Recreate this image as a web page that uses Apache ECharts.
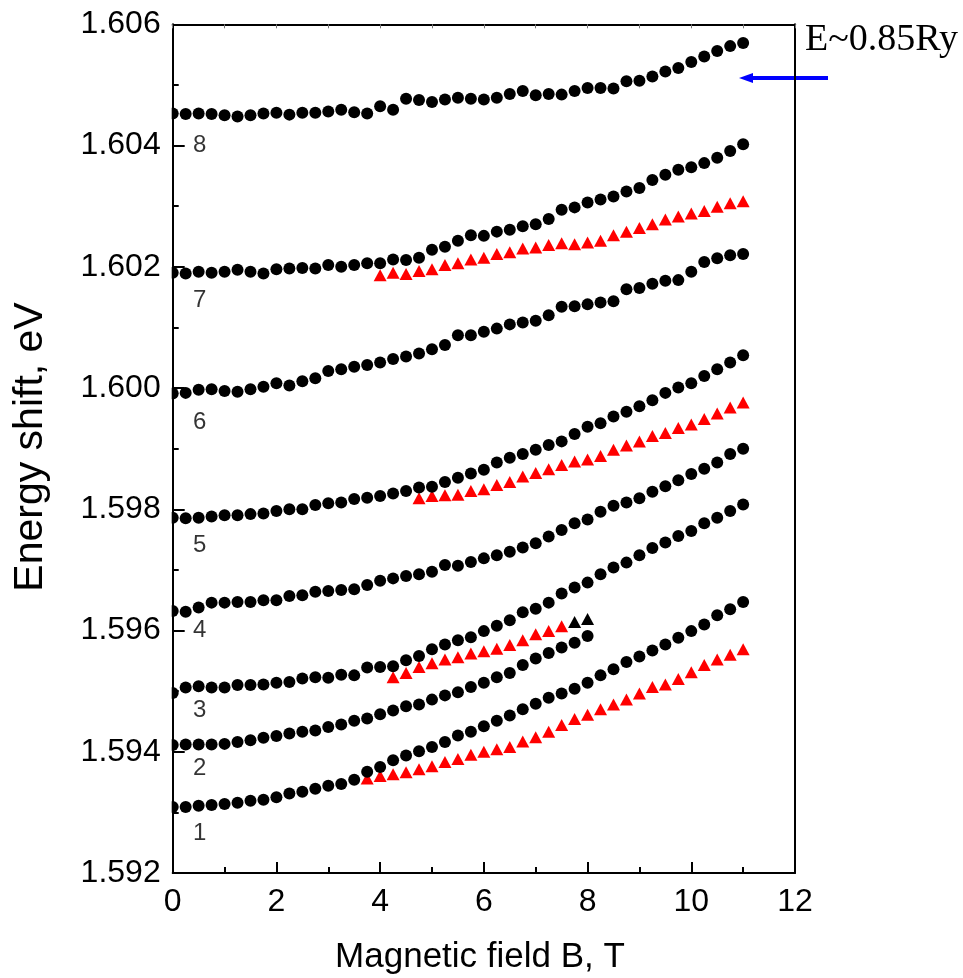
<!DOCTYPE html>
<html>
<head>
<meta charset="utf-8">
<script src="https://cdn.jsdelivr.net/npm/echarts@6/dist/echarts.min.js"></script>
<style>
html,body{margin:0;padding:0;background:#fff;}
#chart{width:963px;height:978px;}
</style>
</head>
<body>
<div id="chart"></div>
<script>
// Magnetic field grid (T), measured every 0.25 T
const B_FIELD = [0,0.25,0.5,0.75,1,1.25,1.5,1.75,2,2.25,2.5,2.75,3,3.25,3.5,3.75,4,4.25,4.5,4.75,5,5.25,5.5,5.75,6,6.25,6.5,6.75,7,7.25,7.5,7.75,8,8.25,8.5,8.75,9,9.25,9.5,9.75,10,10.25,10.5,10.75,11];

// black circle series (start field, values in eV)
const S8_START = 0;
const S8 = [1.60453,1.60452,1.60453,1.60452,1.60450,1.60448,1.60450,1.60453,1.60454,1.60451,1.60454,1.60454,1.60456,1.60459,1.60455,1.60453,1.60465,1.60459,1.60477,1.60475,1.60472,1.60476,1.60479,1.60477,1.60476,1.60479,1.60485,1.60490,1.60483,1.60485,1.60484,1.60490,1.60495,1.60495,1.60494,1.60506,1.60507,1.60514,1.60522,1.60528,1.60538,1.60547,1.60556,1.60564,1.60569];
const S7_START = 0;
const S7 = [1.60190,1.60189,1.60192,1.60190,1.60192,1.60195,1.60192,1.60189,1.60196,1.60197,1.60198,1.60197,1.60203,1.60200,1.60203,1.60206,1.60206,1.60212,1.60211,1.60215,1.60228,1.60233,1.60243,1.60252,1.60251,1.60258,1.60261,1.60267,1.60270,1.60279,1.60294,1.60298,1.60306,1.60311,1.60316,1.60324,1.60330,1.60343,1.60352,1.60360,1.60364,1.60371,1.60380,1.60391,1.60402];
const S6_START = 0;
const S6 = [1.59991,1.59992,1.59997,1.59998,1.59995,1.59994,1.59998,1.60002,1.60008,1.60004,1.60011,1.60016,1.60028,1.60031,1.60035,1.60038,1.60042,1.60048,1.60052,1.60057,1.60064,1.60071,1.60087,1.60087,1.60093,1.60098,1.60105,1.60108,1.60111,1.60120,1.60134,1.60135,1.60138,1.60141,1.60143,1.60163,1.60165,1.60172,1.60177,1.60178,1.60192,1.60208,1.60214,1.60219,1.60221];
const S5_START = 0;
const S5 = [1.59786,1.59785,1.59786,1.59788,1.59790,1.59790,1.59792,1.59793,1.59797,1.59800,1.59800,1.59807,1.59810,1.59811,1.59817,1.59819,1.59822,1.59826,1.59830,1.59836,1.59837,1.59845,1.59852,1.59859,1.59865,1.59877,1.59885,1.59891,1.59898,1.59906,1.59912,1.59924,1.59936,1.59942,1.59953,1.59961,1.59970,1.59980,1.59992,1.60001,1.60008,1.60020,1.60031,1.60042,1.60054];
const S4_START = 0;
const S4 = [1.59632,1.59631,1.59638,1.59646,1.59646,1.59647,1.59647,1.59650,1.59650,1.59657,1.59658,1.59664,1.59665,1.59667,1.59668,1.59675,1.59682,1.59686,1.59690,1.59693,1.59697,1.59708,1.59707,1.59713,1.59719,1.59724,1.59730,1.59737,1.59744,1.59755,1.59766,1.59777,1.59783,1.59796,1.59806,1.59811,1.59818,1.59829,1.59838,1.59848,1.59858,1.59867,1.59877,1.59891,1.59900];
const S3_START = 0;
const S3 = [1.59497,1.59506,1.59508,1.59506,1.59506,1.59510,1.59510,1.59511,1.59514,1.59515,1.59521,1.59523,1.59522,1.59527,1.59526,1.59539,1.59540,1.59541,1.59551,1.59558,1.59569,1.59577,1.59584,1.59589,1.59599,1.59608,1.59617,1.59630,1.59636,1.59646,1.59661,1.59671,1.59679,1.59693,1.59704,1.59712,1.59724,1.59736,1.59745,1.59756,1.59764,1.59777,1.59786,1.59797,1.59808];
const S2_START = 0;
const S2 = [1.59411,1.59412,1.59412,1.59412,1.59413,1.59416,1.59419,1.59423,1.59426,1.59430,1.59433,1.59435,1.59441,1.59445,1.59451,1.59455,1.59462,1.59468,1.59475,1.59478,1.59486,1.59493,1.59498,1.59507,1.59514,1.59523,1.59530,1.59543,1.59554,1.59563,1.59572,1.59580,1.59591];
const S1_START = 0;
const S1 = [1.59309,1.59309,1.59311,1.59312,1.59314,1.59316,1.59319,1.59321,1.59325,1.59331,1.59334,1.59339,1.59344,1.59347,1.59354,1.59367,1.59375,1.59386,1.59394,1.59401,1.59408,1.59416,1.59427,1.59433,1.59442,1.59451,1.59460,1.59470,1.59479,1.59489,1.59496,1.59504,1.59514,1.59526,1.59536,1.59548,1.59557,1.59567,1.59577,1.59588,1.59599,1.59610,1.59625,1.59635,1.59647];

// red triangle series
const R7_START = 4;
const R7 = [1.60186,1.60190,1.60188,1.60193,1.60196,1.60203,1.60206,1.60212,1.60215,1.60221,1.60224,1.60230,1.60232,1.60236,1.60239,1.60237,1.60240,1.60243,1.60252,1.60258,1.60264,1.60270,1.60278,1.60283,1.60288,1.60292,1.60299,1.60305,1.60308];
const R5_START = 4.75;
const R5 = [1.59818,1.59822,1.59823,1.59824,1.59830,1.59833,1.59840,1.59845,1.59854,1.59860,1.59866,1.59873,1.59879,1.59882,1.59888,1.59898,1.59905,1.59912,1.59921,1.59926,1.59934,1.59940,1.59949,1.59958,1.59968,1.59976];
const R3_START = 4.25;
const R3 = [1.59523,1.59530,1.59540,1.59546,1.59552,1.59556,1.59562,1.59566,1.59570,1.59576,1.59584,1.59594,1.59599,1.59607];
const R1_START = 3.75;
const R1 = [1.59356,1.59360,1.59363,1.59366,1.59371,1.59376,1.59383,1.59388,1.59395,1.59400,1.59404,1.59408,1.59417,1.59424,1.59433,1.59444,1.59454,1.59461,1.59470,1.59478,1.59486,1.59496,1.59507,1.59511,1.59520,1.59531,1.59543,1.59552,1.59560,1.59569];
// black triangles
const T3_START = 7.75;
const T3 = [1.59614,1.59619];

// curve number labels
const CURVE_NAMES = ['1','2','3','4','5','6','7','8'];
const CURVE_LABEL_B = 0.52;
const CURVE_LABEL_E = [1.59266,1.59372,1.59468,1.59600,1.59741,1.59944,1.60145,1.60400];

// axes
const X_MIN = 0, X_MAX = 12, X_STEP = 2;
const Y_MIN = 1.592, Y_MAX = 1.606, Y_STEP = 0.002;
const X_TITLE = 'Magnetic field B, T';
const Y_TITLE = 'Energy shift, eV';
const NOTE = 'E~0.85Ry';

function pairs(start, ys) {
  const i0 = B_FIELD.indexOf(start);
  return ys.map((y, i) => [B_FIELD[i0 + i], y]);
}

const SANS = '"Liberation Sans", Arial, sans-serif';
const chart = echarts.init(document.getElementById('chart'), null, {renderer: 'canvas'});

function circ(name, start, ys) {
  return {name, type: 'scatter', symbol: 'circle', symbolSize: 12, clip: true,
    itemStyle: {color: '#000', opacity: 1}, data: pairs(start, ys), z: 3};
}
function tri(name, start, ys, color) {
  return {name, type: 'scatter', symbol: 'triangle', symbolSize: [13, 12], clip: true,
    itemStyle: {color: color, opacity: 1}, data: pairs(start, ys), z: 2};
}

const series = [
  tri('r7', R7_START, R7, '#ff0000'),
  tri('r5', R5_START, R5, '#ff0000'),
  tri('r3', R3_START, R3, '#ff0000'),
  tri('t3', T3_START, T3, '#000000'),
  tri('r1', R1_START, R1, '#ff0000'),
  circ('s8', S8_START, S8),
  circ('s7', S7_START, S7),
  circ('s6', S6_START, S6),
  circ('s5', S5_START, S5),
  circ('s4', S4_START, S4),
  circ('s3', S3_START, S3),
  circ('s2', S2_START, S2),
  circ('s1', S1_START, S1),
  {
    name: 'labels', type: 'scatter', symbolSize: 1, itemStyle: {color: 'rgba(0,0,0,0)'},
    data: CURVE_NAMES.map((n, i) => ({name: n, value: [CURVE_LABEL_B, CURVE_LABEL_E[i]]})),
    label: {show: true, position: 'inside', formatter: '{b}', color: '#000', fontSize: 24,
      fontFamily: SANS, textBorderWidth: 0},
    z: 5, silent: true
  }
];

const option = {
  animation: false,
  backgroundColor: '#fff',
  grid: {left: 172.7, right: 168, top: 24.3, bottom: 105, containLabel: false},
  xAxis: [
    {type: 'value', position: 'bottom', min: X_MIN, max: X_MAX, interval: X_STEP,
     axisLine: {show: true, onZero: false, lineStyle: {color: '#000', width: 2}},
     axisTick: {show: true, inside: true, length: 11, lineStyle: {color: '#000', width: 2}},
     minorTick: {show: true, splitNumber: 2, length: 6, lineStyle: {color: '#000', width: 2}},
     axisLabel: {show: true, margin: 13, color: '#000', fontSize: 32, fontFamily: SANS},
     splitLine: {show: false}, z: 20},
    {type: 'value', position: 'top', min: X_MIN, max: X_MAX, interval: 1,
     axisLine: {show: true, onZero: false, lineStyle: {color: '#000', width: 2}},
     axisTick: {show: true, inside: true, length: 4, lineStyle: {color: '#777', width: 1}},
     axisLabel: {show: false}, splitLine: {show: false}, z: 20}
  ],
  yAxis: [
    {type: 'value', position: 'left', min: Y_MIN, max: Y_MAX, interval: Y_STEP,
     axisLine: {show: true, onZero: false, lineStyle: {color: '#000', width: 2}},
     axisTick: {show: true, inside: true, length: 12, lineStyle: {color: '#000', width: 2}},
     minorTick: {show: true, splitNumber: 2, length: 6, lineStyle: {color: '#000', width: 2}},
     axisLabel: {show: true, margin: 12, color: '#000', fontSize: 32, fontFamily: SANS,
       formatter: v => v.toFixed(3)},
     splitLine: {show: false}, z: 20},
    {type: 'value', position: 'right', min: Y_MIN, max: Y_MAX, interval: Y_STEP,
     axisLine: {show: true, onZero: false, lineStyle: {color: '#000', width: 2}},
     axisTick: {show: false}, axisLabel: {show: false}, splitLine: {show: false}, z: 20}
  ],
  series: series,
  graphic: [
    // white mask so the dots sitting on B = 0 are cut off at the frame, as in the original
    {type: 'rect', z: 8, shape: {x: 161, y: 20, width: 10.7, height: 858},
     style: {fill: '#fff'}, silent: true},
    {type: 'text', x: 480, y: 957, z: 10,
     style: {text: X_TITLE, fill: '#000', font: '35px ' + SANS, align: 'center', verticalAlign: 'middle',
       textAlign: 'center', textVerticalAlign: 'middle'}},
    {type: 'text', x: 31, y: 447, rotation: Math.PI / 2, z: 10,
     style: {text: Y_TITLE, fill: '#000', font: '41px ' + SANS, align: 'center', verticalAlign: 'middle',
       textAlign: 'center', textVerticalAlign: 'middle'}},
    {type: 'text', x: 805, y: 40, z: 10,
     style: {text: NOTE, fill: '#000', font: '38px "Liberation Serif", "Times New Roman", serif',
       align: 'left', verticalAlign: 'middle', textAlign: 'left', textVerticalAlign: 'middle'}},
    {type: 'line', z: 10, shape: {x1: 828, y1: 78, x2: 750, y2: 78},
     style: {stroke: '#0000ff', lineWidth: 4}},
    {type: 'polygon', z: 10, shape: {points: [[739, 78], [753, 73], [753, 83]]},
     style: {fill: '#0000ff'}}
  ]
};
chart.setOption(option);
</script>
</body>
</html>
